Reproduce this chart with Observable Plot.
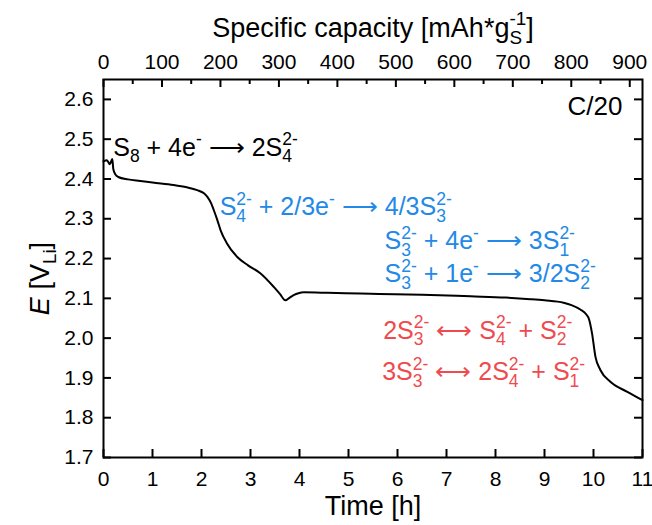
<!DOCTYPE html>
<html><head><meta charset="utf-8">
<script src="https://cdn.jsdelivr.net/npm/d3@7"></script>
<script src="https://cdn.jsdelivr.net/npm/@observablehq/plot@0.6"></script>
<style>body{margin:0;background:#fff;}</style>
</head><body><div id="chart"></div>
<script>
// ---- data ----
const timeH = [0, 0.07, 0.13, 0.18, 0.2, 0.24, 0.3, 0.5, 0.75, 1.0, 1.43, 1.7, 1.91, 2.05, 2.12, 2.2, 2.25, 2.32, 2.39, 2.52, 2.73, 2.95, 3.2, 3.48, 3.6, 3.71, 3.8, 3.88, 3.98, 4.09, 4.57, 5.24, 5.62, 6.5, 7.49, 8.2, 8.71, 9.0, 9.39, 9.55, 9.73, 9.85, 9.91, 9.97, 10.04, 10.14, 10.35, 10.69, 11.0];
const potentialV = [2.444, 2.447, 2.437, 2.45, 2.425, 2.412, 2.405, 2.399, 2.395, 2.391, 2.385, 2.379, 2.372, 2.364, 2.355, 2.338, 2.322, 2.298, 2.271, 2.238, 2.204, 2.183, 2.163, 2.128, 2.111, 2.095, 2.102, 2.108, 2.113, 2.115, 2.114, 2.112, 2.111, 2.109, 2.105, 2.102, 2.098, 2.095, 2.089, 2.083, 2.072, 2.06, 2.047, 2.012, 1.953, 1.92, 1.89, 1.865, 1.844];
const timeTicks = [0, 1, 2, 3, 4, 5, 6, 7, 8, 9, 10, 11];
const potentialTicks = [1.7, 1.8, 1.9, 2.0, 2.1, 2.2, 2.3, 2.4, 2.5, 2.6];
const capacityTicks = [0, 100, 200, 300, 400, 500, 600, 700, 800, 900];
const capacityMinorTicks = [50, 150, 250, 350, 450, 550, 650, 750, 850];
const capacityPerHour = 83.8;
const rateLabel = "C/20";
const annotationText = [
  "S_{8} + 4e^{-} ⟶ 2S^{2-}_{4}",
  "S^{2-}_{4} + 2/3e^{-} ⟶ 4/3S^{2-}_{3}",
  "S^{2-}_{3} + 4e^{-} ⟶ 3S^{2-}_{1}",
  "S^{2-}_{3} + 1e^{-} ⟶ 3/2S^{2-}_{2}",
  "2S^{2-}_{3} ⟷ S^{2-}_{4} + S^{2-}_{2}",
  "3S^{2-}_{3} ⟷ 2S^{2-}_{4} + S^{2-}_{1}"
];
const annotationTime = [0.198, 2.37, 5.735, 5.735, 5.708, 5.688];
const annotationPotential = [2.458, 2.309, 2.223, 2.141, 1.999, 1.894];
const annotationKind = ["first", "reduction", "reduction", "reduction", "equilibrium", "equilibrium"];

// ---- layout / style ----
const W = 652, H = 525, mL = 103, mR = 10, mT = 79, mB = 68;
const innerW = W - mL - mR, innerH = H - mT - mB;
const kindColor = {first: "#000000", reduction: "#2389e6", equilibrium: "#ef4b4f"};

const curve = timeH.map((t, i) => ({t, v: potentialV[i]}));
const notes = annotationText.map((label, i) => ({label, t: annotationTime[i], v: annotationPotential[i], kind: annotationKind[i]}));
const capTimes = capacityTicks.map(c => c / capacityPerHour);
const capMinorTimes = capacityMinorTicks.map(c => c / capacityPerHour);

const noteMarks = Object.keys(kindColor).map(k =>
  Plot.text(notes.filter(d => d.kind === k), {x: "t", y: "v", text: "label", fill: kindColor[k], textAnchor: "start", lineAnchor: "bottom", fontSize: 25})
);

const chart = Plot.plot({
  width: W, height: H,
  marginLeft: mL, marginRight: mR, marginTop: mT, marginBottom: mB,
  style: {fontFamily: "'Liberation Sans', Arial, sans-serif", fontSize: "21px", color: "#000", background: "#fff", overflow: "visible"},
  x: {domain: [0, 11]},
  y: {domain: [1.7, 2.65]},
  marks: [
    Plot.axisX({anchor: "bottom", ticks: timeTicks, tickSize: 0, tickPadding: 14, fontSize: 21, label: null}),
    Plot.axisX({anchor: "top", ticks: capTimes, tickFormat: d => String(Math.round(d * capacityPerHour)), tickSize: 0, tickPadding: 11, fontSize: 21, label: null}),
    Plot.axisY({anchor: "left", ticks: potentialTicks, tickFormat: d3.format(".1f"), tickSize: 0, tickPadding: 10, fontSize: 21, label: null}),
    Plot.tickX(timeTicks, {x: d => d, insetTop: innerH - 8, stroke: "#000", strokeWidth: 2}),
    Plot.tickX(capTimes, {x: d => d, insetBottom: innerH - 8, stroke: "#000", strokeWidth: 2}),
    Plot.tickX(capMinorTimes, {x: d => d, insetBottom: innerH - 5, stroke: "#000", strokeWidth: 2}),
    Plot.tickY(potentialTicks, {y: d => d, insetRight: innerW - 8, stroke: "#000", strokeWidth: 2}),
    Plot.tickY(potentialTicks, {y: d => d, insetLeft: innerW - 8, stroke: "#000", strokeWidth: 2}),
    Plot.line(curve, {x: "t", y: "v", stroke: "#000", strokeWidth: 2, curve: "monotone-x"}),
    Plot.frame({stroke: "#000", strokeWidth: 2}),
    Plot.text(["Time [h]"], {frameAnchor: "bottom", dy: 57, lineAnchor: "bottom", fontSize: 27}),
    Plot.text(["Specific capacity [mAh*g^{-1}_{S}]"], {frameAnchor: "top", dy: -43, lineAnchor: "bottom", fontSize: 27}),
    Plot.text(["~{E} [V_{Li}]"], {frameAnchor: "left", dx: -55, dy: 10, rotate: -90, textAnchor: "middle", lineAnchor: "bottom", fontSize: 27}),
    Plot.text([rateLabel], {x: 10.59, y: 2.56, textAnchor: "end", lineAnchor: "bottom", fontSize: 26}),
    ...noteMarks
  ]
});
document.getElementById("chart").append(chart);

// ---- rich text: ^{sup}, _{sub}, ~{italic}; stacked sup+sub ----
function richify(textEl) {
  const src = textEl.textContent;
  if (!/[\^_~]\{/.test(src)) return;
  const base = parseFloat(getComputedStyle(textEl).fontSize);
  const tokens = [];
  const re = /([\^_~])\{([^}]*)\}/g;
  let last = 0, m;
  while ((m = re.exec(src))) {
    if (m.index > last) tokens.push({type: "n", text: src.slice(last, m.index)});
    tokens.push({type: m[1], text: m[2]});
    last = re.lastIndex;
  }
  if (last < src.length) tokens.push({type: "n", text: src.slice(last)});
  textEl.textContent = "";
  const NS = "http://www.w3.org/2000/svg";
  let cur = 0, pendingDx = 0, prev = null;
  const small = 0.7 * base;
  for (const tk of tokens) {
    const ts = document.createElementNS(NS, "tspan");
    let target = 0;
    if (tk.type === "^") { target = -0.42 * base; ts.setAttribute("font-size", small); }
    else if (tk.type === "_") { target = 0.26 * base; ts.setAttribute("font-size", small); }
    else if (tk.type === "~") { ts.setAttribute("font-style", "italic"); }
    if (target - cur) ts.setAttribute("dy", target - cur);
    cur = target;
    let dx = pendingDx; pendingDx = 0;
    let stacked = false;
    if (tk.type === "_" && prev && prev.type === "^") { stacked = true; dx -= prev.width; }
    if (dx) ts.setAttribute("dx", dx);
    ts.textContent = tk.text;
    textEl.appendChild(ts);
    const w = ts.getComputedTextLength();
    if (stacked && prev.width > w) pendingDx = prev.width - w;
    prev = {type: tk.type, width: w};
  }
}
chart.querySelectorAll("text").forEach(richify);
</script>
</body></html>
